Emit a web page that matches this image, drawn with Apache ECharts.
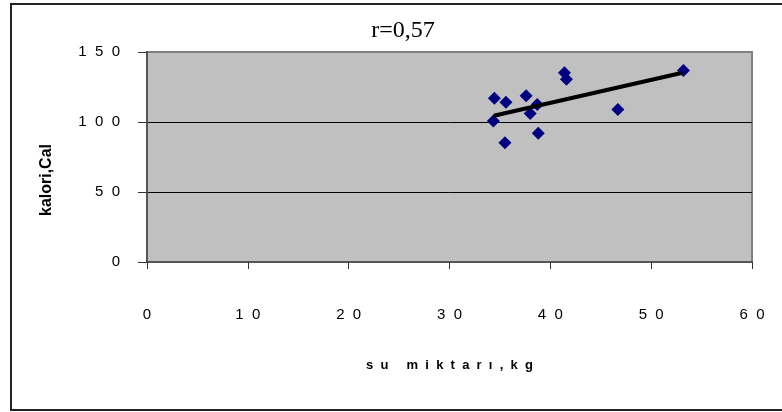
<!DOCTYPE html>
<html>
<head>
<meta charset="utf-8">
<script src="https://cdn.jsdelivr.net/npm/echarts@6/dist/echarts.min.js"></script>
<style>html,body{margin:0;padding:0;background:#fff;}#c{width:782px;height:412px;}</style>
</head>
<body>
<div id="c"></div>
<script>
const waterKg = [34.45, 35.6, 34.35, 35.5, 37.6, 38.0, 38.7, 38.8, 41.4, 41.6, 46.7, 53.2];
const calories = [116.9, 114.1, 100.7, 85.2, 118.8, 106.0, 112.5, 91.9, 135.2, 130.5, 109.0, 136.7];
const trendX = [34.4, 53.1];
const trendY = [104.5, 135.2];
const titleText = 'r=0,57';
const xName = 's  u     m  i  k  t  a  r  ı  ,  k  g';
const yName = 'kalori,Cal';

const spaced = v => String(v).split('').join('  ');

const chart = echarts.init(document.getElementById('c'));
chart.setOption({
  animation: false,
  title: {
    text: titleText, left: 398, top: 14, textAlign: 'center',
    textStyle: { fontFamily: 'Liberation Serif', fontSize: 24, fontWeight: 'normal', color: '#000' }
  },
  grid: {
    left: 147, right: 30, top: 52, bottom: 150,
    show: true, backgroundColor: '#C0C0C0', borderColor: '#808080', borderWidth: 2
  },
  xAxis: {
    type: 'value', min: 0, max: 60, interval: 10,
    name: xName, nameLocation: 'middle', nameGap: 97,
    nameTextStyle: { fontFamily: 'Liberation Sans', fontSize: 13, fontWeight: 'bold', color: '#000' },
    axisLine: { show: true, onZero: false, lineStyle: { color: '#555', width: 2 } },
    axisTick: { show: true, length: 7, lineStyle: { color: '#333', width: 1 } },
    axisLabel: { margin: 45, fontFamily: 'Liberation Sans', fontSize: 15, color: '#000', formatter: spaced },
    splitLine: { show: false }
  },
  yAxis: {
    type: 'value', min: 0, max: 150, interval: 50,
    name: yName, nameLocation: 'middle', nameGap: 92, nameRotate: 90,
    nameTextStyle: { fontFamily: 'Liberation Sans', fontSize: 16, fontWeight: 'bold', color: '#000', padding: [0, 46, 0, 0] },
    axisLine: { show: true, lineStyle: { color: '#555', width: 2 } },
    axisTick: { show: true, length: 9, lineStyle: { color: '#333', width: 1 } },
    axisLabel: { margin: 27, fontFamily: 'Liberation Sans', fontSize: 15, color: '#000', formatter: spaced },
    splitLine: { show: true, lineStyle: { color: ['transparent', '#000', '#000', '#808080'], width: 1 } }
  },
  graphic: [{
    type: 'rect', silent: true, z: -10,
    shape: { x: 11, y: 4, width: 790, height: 406 },
    style: { fill: 'none', stroke: '#222', lineWidth: 2 }
  }],
  series: [{
    type: 'scatter', symbol: 'diamond', symbolSize: 13,
    itemStyle: { color: '#000080', opacity: 1 }, z: 3,
    data: waterKg.map((x, i) => [x, calories[i]])
  }, {
    type: 'line', showSymbol: false, symbol: 'none', z: 4,
    lineStyle: { color: '#000', width: 4 },
    data: trendX.map((x, i) => [x, trendY[i]])
  }]
});
</script>
</body>
</html>
